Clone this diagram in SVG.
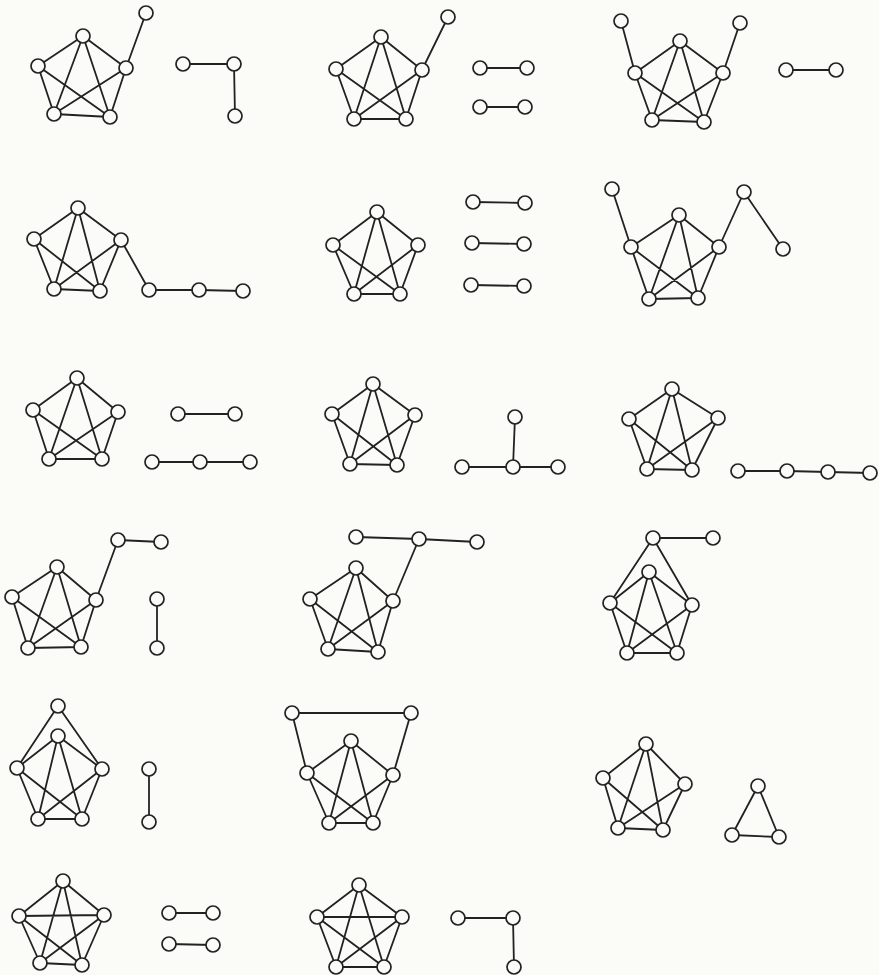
<svg xmlns="http://www.w3.org/2000/svg" width="879" height="975" viewBox="0 0 879 975">
<style>
.e{fill:none;stroke:#222;stroke-width:1.8;stroke-linecap:round;stroke-linejoin:round}
.n{fill:#fbfbf8;stroke:#222;stroke-width:1.7}
.n circle{r:7px}
</style>
<rect width="879" height="975" fill="#fbfbf8"/>
<g id="connectors" class="e">
<path d="M38,66L83,36L126,68L110,117L54,114L38,66L110,117M83,36L54,114M83,36L110,117M126,68L54,114M126,68L146,13"/>
<path d="M183,64L234,64L235,116"/>
<path d="M336,69L381,37L422,70L406,119L354,119L336,69L406,119M381,37L354,119M381,37L406,119M422,70L354,119M422,70L448,17"/>
<path d="M480,68L527,68M480,107L525,107"/>
<path d="M635,73L680,41L723,73L704,122L652,120L635,73L704,122M680,41L652,120M680,41L704,122M723,73L652,120M635,73L621,21M723,73L740,23"/>
<path d="M786,70L836,70"/>
<path d="M34,239L78,208L121,240L100,291L54,289L34,239L100,291M78,208L54,289M78,208L100,291M121,240L54,289M121,240L149,290L199,290L243,291"/>
<path d="M333,245L377,212L418,245L400,294L354,294L333,245L400,294M377,212L354,294M377,212L400,294M418,245L354,294"/>
<path d="M473,202L525,203M472,243L524,244M471,285L524,286"/>
<path d="M631,247L679,215L719,247L698,298L649,299L631,247L698,298M679,215L649,299M679,215L698,298M719,247L649,299M631,247L612,189M719,247L744,192L783,249"/>
<path d="M33,410L77,378L118,412L102,459L49,459L33,410L102,459M77,378L49,459M77,378L102,459M118,412L49,459"/>
<path d="M178,414L235,414M152,462L200,462L250,462"/>
<path d="M332,414L373,384L415,415L397,465L350,464L332,414L397,465M373,384L350,464M373,384L397,465M415,415L350,464"/>
<path d="M515,417L513,467M462,467L558,467"/>
<path d="M629,419L672,389L718,418L692,470L647,469L629,419L692,470M672,389L647,469M672,389L692,470M718,418L647,469"/>
<path d="M738,471L787,471L828,472L870,473"/>
<path d="M12,597L57,567L96,600L81,647L28,648L12,597L81,647M57,567L28,648M57,567L81,647M96,600L28,648M96,600L118,540L161,542"/>
<path d="M157,599L157,648"/>
<path d="M310,599L356,568L393,601L378,652L328,649L310,599L378,652M356,568L328,649M356,568L378,652M393,601L328,649M393,601L419,539M356,537L419,539L477,542"/>
<path d="M610,603L649,572L692,605L677,653L627,653L610,603L677,653M649,572L627,653M649,572L677,653M692,605L627,653M610,603L653,538L692,605M653,538L713,538"/>
<path d="M17,768L58,736L102,769L82,819L38,819L17,768L82,819M58,736L38,819M58,736L82,819M102,769L38,819M17,768L58,706L102,769"/>
<path d="M149,769L149,822"/>
<path d="M307,773L351,741L393,775L373,823L329,823L307,773L373,823M351,741L329,823M351,741L373,823M393,775L329,823M307,773L292,713L411,713L393,775"/>
<path d="M603,778L646,744L685,784L663,830L618,828L603,778L663,830M646,744L618,828M646,744L663,830M685,784L618,828"/>
<path d="M758,786L732,835L779,837Z"/>
<path d="M19,916L63,881L104,915L82,965L40,963L19,916L82,965M63,881L40,963M63,881L82,965M104,915L40,963M19,916L104,915"/>
<path d="M169,913L213,913M169,944L213,945"/>
<path d="M317,917L359,885L402,917L384,967L336,967L317,917L384,967M359,885L336,967M359,885L384,967M402,917L336,967M317,917L402,917"/>
<path d="M458,918L513,918L514,967"/>
</g>
<g id="nodes" class="n">
<g id="g1"><circle cx="83" cy="36" r="7"/><circle cx="38" cy="66" r="7"/><circle cx="126" cy="68" r="7"/><circle cx="54" cy="114" r="7"/><circle cx="110" cy="117" r="7"/><circle cx="146" cy="13" r="7"/></g>
<g id="g2"><circle cx="183" cy="64" r="7"/><circle cx="234" cy="64" r="7"/><circle cx="235" cy="116" r="7"/></g>
<g id="g3"><circle cx="381" cy="37" r="7"/><circle cx="336" cy="69" r="7"/><circle cx="422" cy="70" r="7"/><circle cx="354" cy="119" r="7"/><circle cx="406" cy="119" r="7"/><circle cx="448" cy="17" r="7"/></g>
<g id="g4"><circle cx="480" cy="68" r="7"/><circle cx="527" cy="68" r="7"/><circle cx="480" cy="107" r="7"/><circle cx="525" cy="107" r="7"/></g>
<g id="g5"><circle cx="680" cy="41" r="7"/><circle cx="635" cy="73" r="7"/><circle cx="723" cy="73" r="7"/><circle cx="652" cy="120" r="7"/><circle cx="704" cy="122" r="7"/><circle cx="621" cy="21" r="7"/><circle cx="740" cy="23" r="7"/></g>
<g id="g6"><circle cx="786" cy="70" r="7"/><circle cx="836" cy="70" r="7"/></g>
<g id="g7"><circle cx="78" cy="208" r="7"/><circle cx="34" cy="239" r="7"/><circle cx="121" cy="240" r="7"/><circle cx="54" cy="289" r="7"/><circle cx="100" cy="291" r="7"/><circle cx="149" cy="290" r="7"/><circle cx="199" cy="290" r="7"/><circle cx="243" cy="291" r="7"/></g>
<g id="g8"><circle cx="377" cy="212" r="7"/><circle cx="333" cy="245" r="7"/><circle cx="418" cy="245" r="7"/><circle cx="354" cy="294" r="7"/><circle cx="400" cy="294" r="7"/></g>
<g id="g9"><circle cx="473" cy="202" r="7"/><circle cx="525" cy="203" r="7"/><circle cx="472" cy="243" r="7"/><circle cx="524" cy="244" r="7"/><circle cx="471" cy="285" r="7"/><circle cx="524" cy="286" r="7"/></g>
<g id="g10"><circle cx="679" cy="215" r="7"/><circle cx="631" cy="247" r="7"/><circle cx="719" cy="247" r="7"/><circle cx="649" cy="299" r="7"/><circle cx="698" cy="298" r="7"/><circle cx="612" cy="189" r="7"/><circle cx="744" cy="192" r="7"/><circle cx="783" cy="249" r="7"/></g>
<g id="g11"><circle cx="77" cy="378" r="7"/><circle cx="33" cy="410" r="7"/><circle cx="118" cy="412" r="7"/><circle cx="49" cy="459" r="7"/><circle cx="102" cy="459" r="7"/></g>
<g id="g12"><circle cx="178" cy="414" r="7"/><circle cx="235" cy="414" r="7"/><circle cx="152" cy="462" r="7"/><circle cx="200" cy="462" r="7"/><circle cx="250" cy="462" r="7"/></g>
<g id="g13"><circle cx="373" cy="384" r="7"/><circle cx="332" cy="414" r="7"/><circle cx="415" cy="415" r="7"/><circle cx="350" cy="464" r="7"/><circle cx="397" cy="465" r="7"/></g>
<g id="g14"><circle cx="515" cy="417" r="7"/><circle cx="513" cy="467" r="7"/><circle cx="462" cy="467" r="7"/><circle cx="558" cy="467" r="7"/></g>
<g id="g15"><circle cx="672" cy="389" r="7"/><circle cx="629" cy="419" r="7"/><circle cx="718" cy="418" r="7"/><circle cx="647" cy="469" r="7"/><circle cx="692" cy="470" r="7"/></g>
<g id="g16"><circle cx="738" cy="471" r="7"/><circle cx="787" cy="471" r="7"/><circle cx="828" cy="472" r="7"/><circle cx="870" cy="473" r="7"/></g>
<g id="g17"><circle cx="57" cy="567" r="7"/><circle cx="12" cy="597" r="7"/><circle cx="96" cy="600" r="7"/><circle cx="28" cy="648" r="7"/><circle cx="81" cy="647" r="7"/><circle cx="118" cy="540" r="7"/><circle cx="161" cy="542" r="7"/></g>
<g id="g18"><circle cx="157" cy="599" r="7"/><circle cx="157" cy="648" r="7"/></g>
<g id="g19"><circle cx="356" cy="568" r="7"/><circle cx="310" cy="599" r="7"/><circle cx="393" cy="601" r="7"/><circle cx="328" cy="649" r="7"/><circle cx="378" cy="652" r="7"/><circle cx="419" cy="539" r="7"/><circle cx="356" cy="537" r="7"/><circle cx="477" cy="542" r="7"/></g>
<g id="g20"><circle cx="649" cy="572" r="7"/><circle cx="610" cy="603" r="7"/><circle cx="692" cy="605" r="7"/><circle cx="627" cy="653" r="7"/><circle cx="677" cy="653" r="7"/><circle cx="653" cy="538" r="7"/><circle cx="713" cy="538" r="7"/></g>
<g id="g21"><circle cx="58" cy="706" r="7"/><circle cx="58" cy="736" r="7"/><circle cx="17" cy="768" r="7"/><circle cx="102" cy="769" r="7"/><circle cx="38" cy="819" r="7"/><circle cx="82" cy="819" r="7"/></g>
<g id="g22"><circle cx="149" cy="769" r="7"/><circle cx="149" cy="822" r="7"/></g>
<g id="g23"><circle cx="292" cy="713" r="7"/><circle cx="411" cy="713" r="7"/><circle cx="351" cy="741" r="7"/><circle cx="307" cy="773" r="7"/><circle cx="393" cy="775" r="7"/><circle cx="329" cy="823" r="7"/><circle cx="373" cy="823" r="7"/></g>
<g id="g24"><circle cx="646" cy="744" r="7"/><circle cx="603" cy="778" r="7"/><circle cx="685" cy="784" r="7"/><circle cx="618" cy="828" r="7"/><circle cx="663" cy="830" r="7"/></g>
<g id="g25"><circle cx="758" cy="786" r="7"/><circle cx="732" cy="835" r="7"/><circle cx="779" cy="837" r="7"/></g>
<g id="g26"><circle cx="63" cy="881" r="7"/><circle cx="19" cy="916" r="7"/><circle cx="104" cy="915" r="7"/><circle cx="40" cy="963" r="7"/><circle cx="82" cy="965" r="7"/></g>
<g id="g27"><circle cx="169" cy="913" r="7"/><circle cx="213" cy="913" r="7"/><circle cx="169" cy="944" r="7"/><circle cx="213" cy="945" r="7"/></g>
<g id="g28"><circle cx="359" cy="885" r="7"/><circle cx="317" cy="917" r="7"/><circle cx="402" cy="917" r="7"/><circle cx="336" cy="967" r="7"/><circle cx="384" cy="967" r="7"/></g>
<g id="g29"><circle cx="458" cy="918" r="7"/><circle cx="513" cy="918" r="7"/><circle cx="514" cy="967" r="7"/></g>
</g>
</svg>
